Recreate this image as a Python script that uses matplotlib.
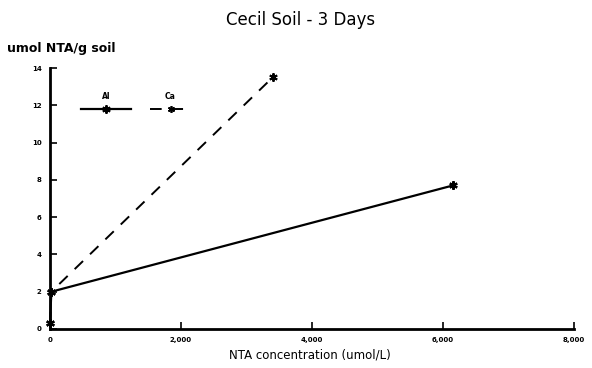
import matplotlib
matplotlib.use("Agg")
import matplotlib.pyplot as plt
from matplotlib.lines import Line2D

# Data
al_x = [0, 20, 6150]
al_y = [0.3, 2.0, 7.7]
ca_x = [0, 20, 3400]
ca_y = [0.3, 2.0, 13.5]
xticks = [0, 2000, 4000, 6000, 8000]
xticklabels = ["0", "2,000", "4,000", "6,000", "8,000"]
yticks = [0, 2, 4, 6, 8, 10, 12, 14]
series_labels = ["Al", "Ca"]

fig = plt.figure(figsize=(5.92, 3.68), dpi=100)
ax = fig.add_axes([0.0845, 0.106, 0.885, 0.709])

ax.plot(al_x, al_y, color="black", lw=1.6, marker=(6, 2, 0), ms=6, mew=1.6, clip_on=False)
ax.plot(ca_x, ca_y, color="black", lw=1.4, ls=(0, (6, 5)), marker=(6, 2, 0), ms=6, mew=1.4, clip_on=False)

ax.set_xlim(0, 8000)
ax.set_ylim(0, 14)
ax.set_xticks(xticks)
ax.set_xticklabels(xticklabels, fontsize=5, fontweight="bold")
ax.set_yticks(yticks)
ax.set_yticklabels([str(v) for v in yticks], fontsize=5, fontweight="bold")
ax.tick_params(direction="in", length=5, width=1.2, pad=6)
for s in ["top", "right"]:
    ax.spines[s].set_visible(False)
for s in ["left", "bottom"]:
    ax.spines[s].set_linewidth(2)

# Legend (label above line sample)
tr = ax.transAxes
ax.add_line(Line2D([0.06, 0.107, 0.154], [0.845, 0.845, 0.845], transform=tr, color="black", lw=1.6,
                   marker=(6, 2, 0), markevery=[1], ms=6, mew=1.4))
ax.text(0.107, 0.875, series_labels[0], transform=tr, ha="center", va="bottom", fontsize=5.5, fontweight="bold")
ax.add_line(Line2D([0.19, 0.23, 0.27], [0.845, 0.845, 0.845], transform=tr, color="black", lw=1.4,
                   ls=(0, (6, 5)), marker=(6, 2, 0), markevery=[1], ms=5, mew=1.2))
ax.text(0.23, 0.875, series_labels[1], transform=tr, ha="center", va="bottom", fontsize=5.5, fontweight="bold")

fig.text(0.507, 0.945, "Cecil Soil - 3 Days", ha="center", va="center", fontsize=12)
fig.text(0.012, 0.868, "umol NTA/g soil", ha="left", va="center", fontsize=9, fontweight="bold")
fig.text(0.523, 0.035, "NTA concentration (umol/L)", ha="center", va="center", fontsize=8.5)

fig.savefig("out.png", dpi=100)
